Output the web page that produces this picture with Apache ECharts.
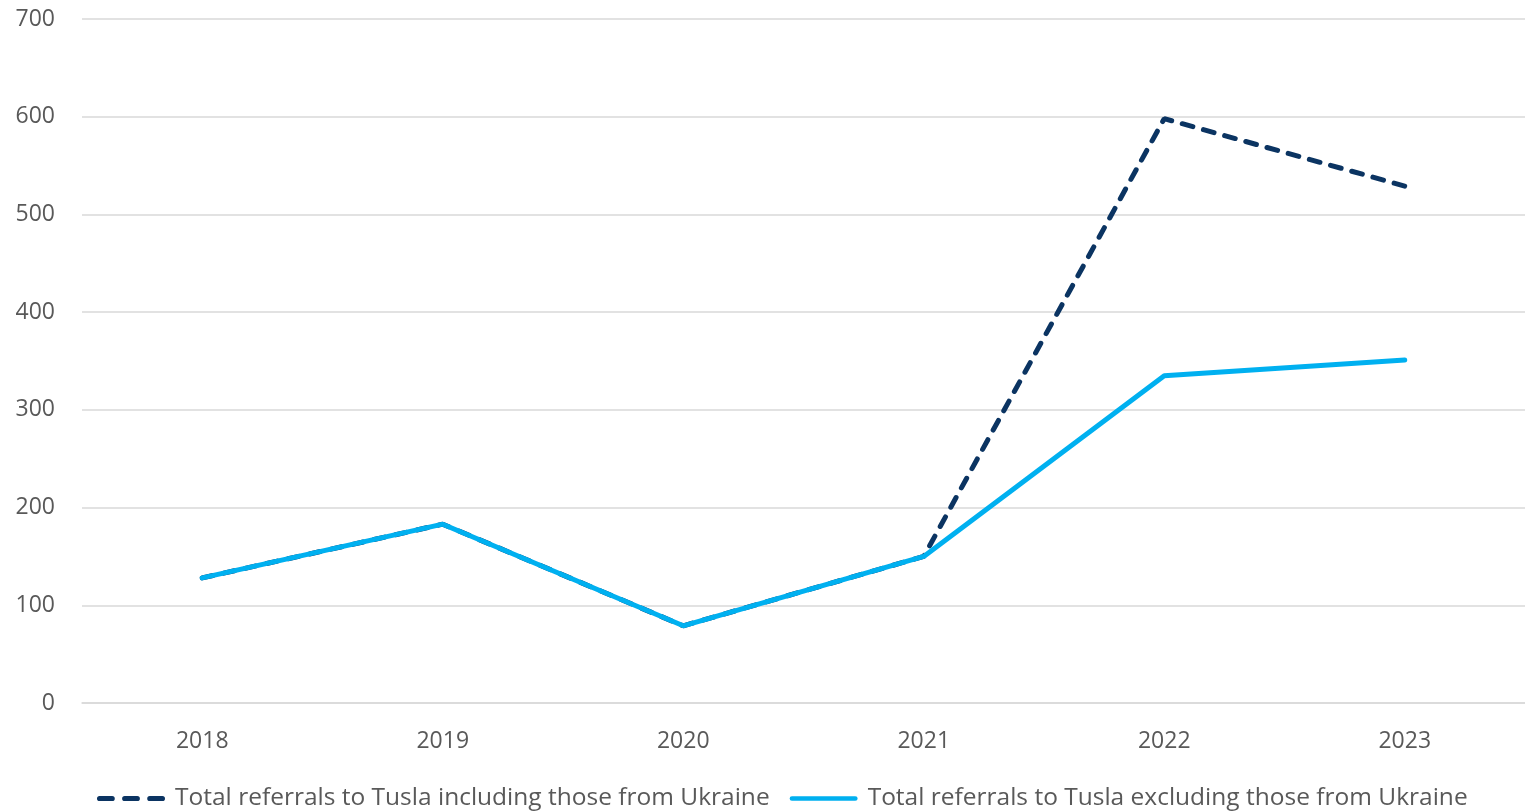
<!DOCTYPE html>
<html><head><meta charset="utf-8">
<script src="https://cdn.jsdelivr.net/npm/echarts@6/dist/echarts.min.js"></script>
<style>html,body{margin:0;padding:0;background:#fff}#c{width:1525px;height:812px}</style>
</head><body><div id="c"></div>
<script>
const categories = ['2018','2019','2020','2021','2022','2023'];
const includingUkraine = [128, 183, 79, 150, 598, 529];
const excludingUkraine = [128, 183, 79, 150, 335, 351];
const seriesNames = ['Total referrals to Tusla including those from Ukraine','Total referrals to Tusla excluding those from Ukraine'];

const chart = echarts.init(document.getElementById('c'));
const font = 'Open Sans';
const dashIcon = 'path://M2.5,0H14.5A2.5,2.5,0,0,1,14.5,5H2.5A2.5,2.5,0,0,1,2.5,0ZM26.5,0H38.5A2.5,2.5,0,0,1,38.5,5H26.5A2.5,2.5,0,0,1,26.5,0ZM50.5,0H62.5A2.5,2.5,0,0,1,62.5,5H50.5A2.5,2.5,0,0,1,50.5,0Z';
const solidIcon = 'path://M2.5,0H69.5A2.5,2.5,0,0,1,69.5,5H2.5A2.5,2.5,0,0,1,2.5,0Z';
chart.setOption({
  animation: false,
  grid: {left: 82, right: 0, top: 19, bottom: 109},
  legend: {
    bottom: -4, left: 92, itemGap: 20,
    textStyle: {fontFamily: font, fontSize: 24.5, color: '#595959', padding: [0, 0, 0, 5]},
    data: [
      {name: seriesNames[0], icon: dashIcon, itemWidth: 65, itemHeight: 5},
      {name: seriesNames[1], icon: solidIcon, itemWidth: 72, itemHeight: 5}
    ],
    itemWidth: 68
  },
  xAxis: {
    type: 'category', data: categories, boundaryGap: true,
    axisLine: {lineStyle: {color: '#d9d9d9', width: 1.5}},
    axisTick: {show: false},
    axisLabel: {fontFamily: font, fontSize: 23, color: '#595959', margin: 27}
  },
  yAxis: {
    type: 'value', min: 0, max: 700, interval: 100,
    axisLine: {show: false}, axisTick: {show: false},
    splitLine: {lineStyle: {color: '#d9d9d9', width: 1.5}},
    axisLabel: {fontFamily: font, fontSize: 23, color: '#595959', margin: 27}
  },
  series: [
    {name: seriesNames[0], type: 'line', data: includingUkraine, symbol: 'none',
     lineStyle: {color: '#0b3462', width: 5, type: [11, 11], cap: 'round'},
     itemStyle: {color: '#0b3462'}},
    {name: seriesNames[1], type: 'line', data: excludingUkraine, symbol: 'none',
     lineStyle: {color: '#00b0f0', width: 5, cap: 'round'},
     itemStyle: {color: '#00b0f0'}}
  ]
});
</script></body></html>
